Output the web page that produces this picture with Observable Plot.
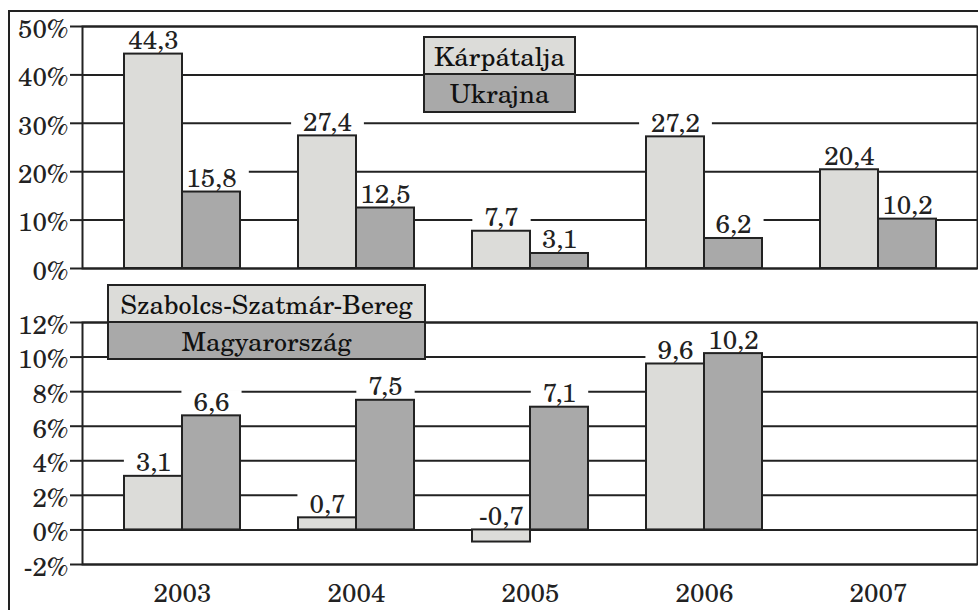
<!DOCTYPE html>
<html>
<head>
<meta charset="utf-8">
<script src="https://cdn.jsdelivr.net/npm/d3@7"></script>
<script src="https://cdn.jsdelivr.net/npm/@observablehq/plot@0.6"></script>
<style>
  body { margin: 0; background: #fff; }
  #wrap { position: relative; width: 978px; height: 610px; overflow: hidden; background: #fff; }
  #outer { position: absolute; left: 8px; top: 10px; width: 1200px; height: 800px; border-top: 2px solid #222; border-left: 2px solid #222; }
  .chart { position: absolute; left: 0; }
  .leg { position: absolute; box-sizing: border-box; border: 2px solid #222; text-align: center; color: #111; }
</style>
</head>
<body>
<div id="wrap">
  <div id="outer"></div>
  <div id="top" class="chart" style="top:0px"></div>
  <div id="bottom" class="chart" style="top:295px"></div>
  <div class="leg" style="left:423px;top:36px;width:153px;height:39px;line-height:35px;background:#dcdcd9;font-family:'TeX Gyre Schola','DejaVu Serif',serif;font-size:26px">Kárpátalja</div>
  <div class="leg" style="left:423px;top:73px;width:153px;height:40px;line-height:36px;background:#a9a9a9;font-family:'TeX Gyre Schola','DejaVu Serif',serif;font-size:26px">Ukrajna</div>
  <div class="leg" style="left:107px;top:284px;width:319px;height:39px;line-height:35px;background:#dcdcd9;font-family:'TeX Gyre Schola','DejaVu Serif',serif;font-size:26px">Szabolcs-Szatmár-Bereg</div>
  <div class="leg" style="left:107px;top:321px;width:319px;height:39px;line-height:35px;background:#a9a9a9;font-family:'TeX Gyre Schola','DejaVu Serif',serif;font-size:26px">Magyarország</div>
</div>
<script>
// ---- data ----
const years = ["2003", "2004", "2005", "2006", "2007"];
const karpatalja = [44.3, 27.4, 7.7, 27.2, 20.4];
const ukrajna = [15.8, 12.5, 3.1, 6.2, 10.2];
const szabolcs = [3.1, 0.7, -0.7, 9.6];
const magyarorszag = [6.6, 7.5, 7.1, 10.2];
const topTicks = [0, 10, 20, 30, 40, 50];
const bottomTicks = [-2, 0, 2, 4, 6, 8, 10, 12];

const LIGHT = "#dcdcd9", DARK = "#a9a9a9", INK = "#222";
const FONT = "'TeX Gyre Schola', 'DejaVu Serif', serif";
const FS = 26;
const W = 978, ML = 82, MR = 1;
const PI = 1 / 3, PO = 0.2385;
const step = (W - ML - MR) / (years.length - PI + 2 * PO);
const bw = step * (1 - PI);

const fmt = v => v.toFixed(1).replace(".", ",");

function makeChart(aVals, bVals, domain, ticks, height, mt, mb, showX) {
  const a = aVals.map((v, i) => ({year: years[i], value: v}));
  const b = bVals.map((v, i) => ({year: years[i], value: v}));
  return Plot.plot({
    width: W, height, marginLeft: ML, marginRight: MR, marginTop: mt, marginBottom: mb,
    style: {fontFamily: FONT, fontSize: FS + "px", color: INK, background: "transparent"},
    x: {type: "band", domain: years, paddingInner: PI, paddingOuter: PO, label: null},
    y: {domain, ticks, label: null},
    marks: [
      Plot.gridY(ticks, {stroke: INK, strokeOpacity: 1, strokeWidth: 2}),
      Plot.text(a, {x: "year", y: d => Math.max(d.value, 0), text: d => fmt(d.value), dx: -bw / 4, dy: -5, lineAnchor: "bottom", fill: INK, fontSize: FS, fontFamily: FONT}),
      Plot.text(b, {x: "year", y: d => Math.max(d.value, 0), text: d => fmt(d.value), dx: bw / 4, dy: -5, lineAnchor: "bottom", fill: INK, fontSize: FS, fontFamily: FONT}),
      Plot.barY(a, {x: "year", y: "value", fill: LIGHT, stroke: INK, strokeWidth: 2, insetRight: bw / 2}),
      Plot.barY(b, {x: "year", y: "value", fill: DARK, stroke: INK, strokeWidth: 2, insetLeft: bw / 2}),
      Plot.frame({stroke: INK, strokeWidth: 2}),
      Plot.axisY(ticks, {tickSize: 12, tickFormat: () => "", stroke: INK, strokeWidth: 2, label: null}),
      Plot.axisY(ticks, {tickSize: 0, tickPadding: 14, dy: 3, tickFormat: d => d + "%", fontSize: FS, fontFamily: FONT, label: null}),
      showX ? Plot.axisX({tickSize: 0, tickPadding: 19, fontSize: FS, fontFamily: FONT, label: null}) : Plot.axisX({ticks: [], label: null, tickSize: 0})
    ]
  });
}

const topChart = makeChart(karpatalja, ukrajna, [0, 50], topTicks, 295, 26, 27, false);
const botChart = makeChart(szabolcs, magyarorszag, [-2, 12], bottomTicks, 315, 27, 46, true);
document.getElementById("top").appendChild(topChart);
document.getElementById("bottom").appendChild(botChart);

for (const svg of [topChart, botChart]) {
  // drop the empty texts of the tick-only axis
  d3.select(svg).selectAll("text").filter(function () { return this.textContent === ""; }).remove();
  // force the serif face on every text
  d3.select(svg).selectAll("text").style("font-family", FONT).style("fill", INK);
  // white boxes behind the value labels so the gridlines are interrupted
  d3.select(svg).selectAll('g[aria-label="text"] text').each(function () {
    const bb = this.getBBox();
    let base;
    try { base = this.getStartPositionOfChar(0).y; } catch (e) { base = bb.y + bb.height * 0.8; }
    const r = document.createElementNS("http://www.w3.org/2000/svg", "rect");
    r.setAttribute("x", bb.x - 12);
    r.setAttribute("width", bb.width + 24);
    r.setAttribute("y", base - 0.8 * FS);
    r.setAttribute("height", 0.84 * FS);
    r.setAttribute("fill", "#fff");
    const t = this.getAttribute("transform");
    if (t) r.setAttribute("transform", t);
    this.parentNode.insertBefore(r, this);
  });
}
</script>
</body>
</html>
